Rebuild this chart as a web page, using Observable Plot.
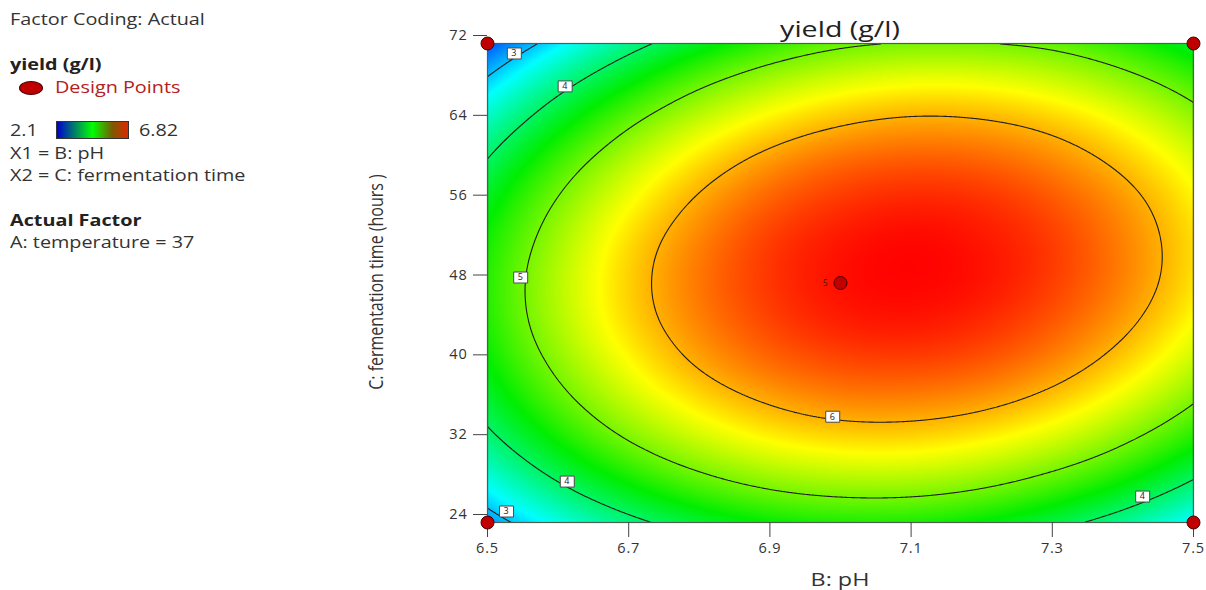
<!DOCTYPE html>
<html>
<head>
<meta charset="utf-8">
<script src="https://cdn.jsdelivr.net/npm/d3@7"></script>
<script src="https://cdn.jsdelivr.net/npm/@observablehq/plot@0.6"></script>
<style>
  body { margin: 0; background: #fff; }
  #wrap { position: relative; width: 1206px; height: 590px; overflow: hidden;
          font-family: "Open Sans", "Noto Sans", sans-serif; color: #333; }
  #wrap svg { position: absolute; left: 0; top: 0; }
  .t { position: absolute; white-space: nowrap; font-size: 16.5px; line-height: 22px;
       transform: scaleX(1.2); transform-origin: left center; }
  .b { font-weight: bold; color: #222; }
  #title { position: absolute; left: 690px; width: 300px; top: 13px; text-align: center;
           font-size: 22px; line-height: 30px; color: #222; transform: scaleX(1.3); }
  #xtitle { position: absolute; left: 740px; width: 200px; top: 569px; text-align: center;
            font-size: 18px; line-height: 20px; color: #333; transform: scaleX(1.3); }
  #ytitle { position: absolute; left: 225px; width: 300px; top: 271px; text-align: center;
            font-size: 16px; line-height: 22px; color: #333;
            transform: rotate(-90deg) scaleY(1.3); }
  #dp { position: absolute; left: 19px; top: 81px; width: 22px; height: 12px; border-radius: 50%;
        background: #c00000; border: 1px solid #4a0000; }
  #bar { position: absolute; left: 56px; top: 121px; width: 73px; height: 18px; box-sizing: border-box;
         border: 1px solid #333;
         background: linear-gradient(to right, #0000d0, #00ff00 50%, #7a5a00 78%, #e02800); }
</style>
</head>
<body>
<div id="wrap">
  <div class="t" style="left:10px;top:8px">Factor Coding: Actual</div>
  <div class="t b" style="left:10px;top:53px">yield (g/l)</div>
  <div id="dp"></div>
  <div class="t" style="left:55px;top:76px;color:#b52020">Design Points</div>
  <div class="t" style="left:10px;top:119px" id="lmin"></div>
  <div id="bar"></div>
  <div class="t" style="left:139px;top:119px" id="lmax"></div>
  <div class="t" style="left:10px;top:142px">X1 = B: pH</div>
  <div class="t" style="left:10px;top:164px">X2 = C: fermentation time</div>
  <div class="t b" style="left:10px;top:209px">Actual Factor</div>
  <div class="t" style="left:10px;top:231px">A: temperature = 37</div>
  <div id="title">yield (g/l)</div>
  <div id="xtitle">B: pH</div>
  <div id="ytitle">C: fermentation time (hours )</div>
</div>
<script>
// pH values (columns) and fermentation times (rows) at which the yield surface is tabulated
const phGrid = [6.5, 6.6, 6.7, 6.8, 6.9, 7.0, 7.1, 7.2, 7.3, 7.4, 7.5];
const timeGrid = [24, 28, 32, 36, 40, 44, 48, 52, 56, 60, 64, 68, 72];

// yield (g/l) at temperature 37, one row per fermentation time
const yield24 = [2.78, 3.39, 3.87, 4.23, 4.47, 4.58, 4.57, 4.43, 4.16, 3.77, 3.26];
const yield28 = [3.36, 3.99, 4.48, 4.85, 5.10, 5.22, 5.22, 5.09, 4.83, 4.46, 3.95];
const yield32 = [3.84, 4.47, 4.98, 5.36, 5.62, 5.75, 5.76, 5.64, 5.40, 5.03, 4.54];
const yield36 = [4.20, 4.84, 5.36, 5.75, 6.02, 6.17, 6.18, 6.08, 5.85, 5.49, 5.01];
const yield40 = [4.45, 5.10, 5.63, 6.04, 6.32, 6.47, 6.50, 6.41, 6.19, 5.84, 5.37];
const yield44 = [4.59, 5.26, 5.80, 6.21, 6.50, 6.67, 6.71, 6.62, 6.41, 6.08, 5.62];
const yield48 = [4.62, 5.30, 5.85, 6.27, 6.57, 6.75, 6.80, 6.73, 6.53, 6.21, 5.76];
const yield52 = [4.54, 5.22, 5.79, 6.22, 6.54, 6.72, 6.79, 6.72, 6.54, 6.22, 5.79];
const yield56 = [4.34, 5.04, 5.61, 6.06, 6.39, 6.58, 6.66, 6.61, 6.43, 6.13, 5.70];
const yield60 = [4.04, 4.75, 5.33, 5.79, 6.13, 6.34, 6.42, 6.38, 6.21, 5.92, 5.51];
const yield64 = [3.62, 4.34, 4.94, 5.41, 5.75, 5.97, 6.07, 6.04, 5.89, 5.61, 5.20];
const yield68 = [3.10, 3.83, 4.43, 4.92, 5.27, 5.50, 5.61, 5.59, 5.45, 5.18, 4.79];
const yield72 = [2.46, 3.20, 3.82, 4.31, 4.68, 4.92, 5.02, 5.01, 4.90, 4.64, 4.26];
const yieldRows = [yield24, yield28, yield32, yield36, yield40, yield44, yield48,
                   yield52, yield56, yield60, yield64, yield68, yield72];

// colour legend range
const yieldMin = 2.1;
const yieldMax = 6.82;

// contour levels and where their labels sit
const contourLevels = [3, 4, 5, 6];
const labelLevel = [3, 4, 5, 6, 4, 3, 4];
const labelPh = [6.538, 6.610, 6.547, 6.989, 6.613, 6.527, 7.428];
const labelTime = [71.0, 67.7, 48.55, 34.6, 28.1, 25.1, 26.6];

// design points: corners of the factorial plus the replicated centre point
const designPh = [6.5, 6.5, 7.5, 7.5, 7.0];
const designTime = [24, 72, 24, 72, 48];
const designRuns = [1, 1, 1, 1, 5];

// axis ticks
const phTicks = [6.5, 6.7, 6.9, 7.1, 7.3, 7.5];
const timeTicks = [24, 32, 40, 48, 56, 64, 72];

document.getElementById("lmin").textContent = String(yieldMin);
document.getElementById("lmax").textContent = String(yieldMax);

const cells = timeGrid.flatMap((t, i) => phGrid.map((p, j) => ({ph: p, time: t, yield: yieldRows[i][j]})));
const labels = labelLevel.map((v, i) => ({level: v, ph: labelPh[i], time: labelTime[i]}));
const designs = designPh.map((p, i) => ({ph: p, time: designTime[i], runs: designRuns[i]}));

// rainbow stops spread evenly across the legend range
const rainbow = ["#0000ff", "#00ffff", "#00ee00", "#ffff00", "#ff0000"];
const colorStops = rainbow.map((_, i) => yieldMin + (i * (yieldMax - yieldMin)) / (rainbow.length - 1));

// Smooth (Catmull-Rom) interpolation of the regular sample grid onto the raster pixels.
// Samples arrive row by row (timeGrid outer, phGrid inner).
function catmullRom(index, width, height, X, Y, V) {
  const nx = phGrid.length, ny = timeGrid.length;
  const gx0 = X[index[0]], gdx = (X[index[nx - 1]] - gx0) / (nx - 1);
  const gy0 = Y[index[0]], gdy = (Y[index[(ny - 1) * nx]] - gy0) / (ny - 1);
  // padded grid, one ghost cell on every side (quadratic extension)
  const g = [];
  for (let i = 0; i < ny; ++i) {
    const r = [];
    for (let j = 0; j < nx; ++j) r.push(+V[index[i * nx + j]]);
    r.unshift(3 * r[0] - 3 * r[1] + r[2]);
    r.push(3 * r[r.length - 1] - 3 * r[r.length - 2] + r[r.length - 3]);
    g.push(r);
  }
  const w = nx + 2;
  const top = [], bottom = [];
  for (let j = 0; j < w; ++j) {
    top.push(3 * g[0][j] - 3 * g[1][j] + g[2][j]);
    bottom.push(3 * g[ny - 1][j] - 3 * g[ny - 2][j] + g[ny - 3][j]);
  }
  g.unshift(top);
  g.push(bottom);
  const weights = (t) => {
    const t2 = t * t, t3 = t2 * t;
    return [(-t3 + 2 * t2 - t) / 2, (3 * t3 - 5 * t2 + 2) / 2, (-3 * t3 + 4 * t2 + t) / 2, (t3 - t2) / 2];
  };
  const cell = (p, g0, gd, n) => {
    let u = (p - g0) / gd;
    u = Math.max(0, Math.min(n - 1, u));
    const iu = Math.min(Math.floor(u), n - 2);
    return [iu, weights(u - iu)];
  };
  const cols = [];
  for (let x = 0; x < width; ++x) cols.push(cell(x + 0.5, gx0, gdx, nx));
  const values = new Float64Array(width * height);
  for (let y = 0, k = 0; y < height; ++y) {
    const [iv, wy] = cell(y + 0.5, gy0, gdy, ny);
    for (let x = 0; x < width; ++x, ++k) {
      const [iu, wx] = cols[x];
      let s = 0;
      for (let a = 0; a < 4; ++a) {
        const row = g[iv + a];
        s += wy[a] * (wx[0] * row[iu] + wx[1] * row[iu + 1] + wx[2] * row[iu + 2] + wx[3] * row[iu + 3]);
      }
      values[k] = s;
    }
  }
  return values;
}

// small rectangle behind each contour label
const labelBox = {
  draw(ctx) {
    ctx.moveTo(-7, -5.5); ctx.lineTo(7, -5.5); ctx.lineTo(7, 5.5); ctx.lineTo(-7, 5.5); ctx.closePath();
  }
};

const bounds = {x1: 6.5, x2: 7.5, y1: 24, y2: 72};

const chart = Plot.plot({
  width: 1206,
  height: 590,
  marginLeft: 487,
  marginRight: 13,
  marginTop: 43,
  marginBottom: 68,
  style: {fontFamily: "'Open Sans', 'Noto Sans', sans-serif", fontSize: "14.5px", color: "#333",
          background: "transparent", letterSpacing: "0.8px"},
  x: {domain: [6.5, 7.5]},
  y: {domain: [24, 72]},
  color: {type: "linear", domain: colorStops, range: rainbow, clamp: true},
  marks: [
    Plot.raster(cells, {x: "ph", y: "time", fill: "yield", interpolate: catmullRom, pixelSize: 1, ...bounds}),
    Plot.contour(cells, {x: "ph", y: "time", value: "yield", interpolate: catmullRom, pixelSize: 1,
      thresholds: contourLevels, fill: "none", stroke: "#1e1e1e", strokeWidth: 1.1, clip: "frame", ...bounds}),
    Plot.frame({stroke: "#4f5f4f", strokeWidth: 1.2}),
    Plot.axisX(phTicks, {tickSize: 15, tickPadding: 5, tickFormat: ".1f", label: null, stroke: "#444"}),
    Plot.axisY(timeTicks, {tickSize: 14, tickPadding: 6, dy: -8, label: null, stroke: "#444"}),
    Plot.dot(labels, {x: "ph", y: "time", symbol: labelBox, r: 7, fill: "white", stroke: "#4a4a4a", strokeWidth: 1}),
    Plot.text(labels, {x: "ph", y: "time", text: d => String(d.level), fontSize: 9, fill: "#222"}),
    Plot.dot(designs, {x: "ph", y: "time", r: 6.5, fill: "#c00000", stroke: "#4a0000", strokeWidth: 1}),
    Plot.text(designs.filter(d => d.runs > 1), {x: "ph", y: "time", text: d => String(d.runs), dx: -15, fontSize: 8.5, fill: "#222"})
  ]
});

document.getElementById("wrap").prepend(chart);
</script>
</body>
</html>
